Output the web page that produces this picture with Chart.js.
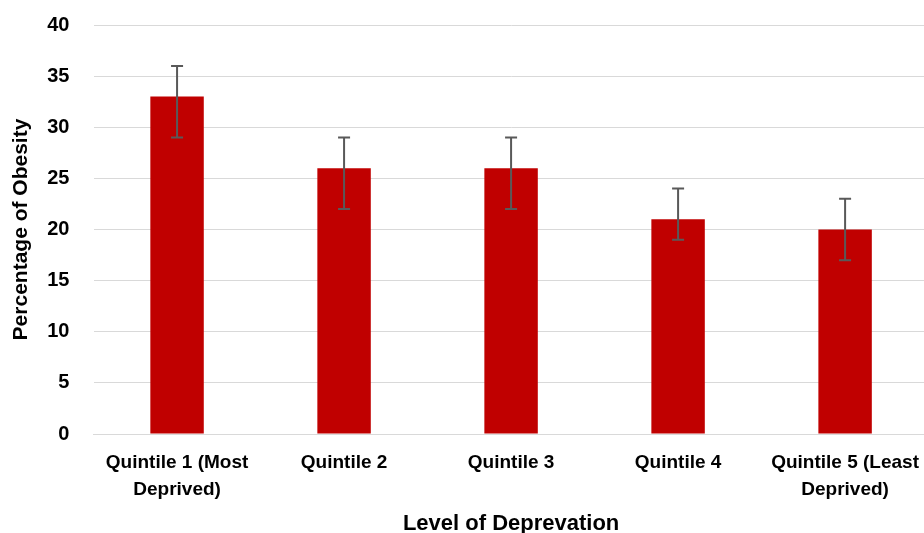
<!DOCTYPE html>
<html>
<head>
<meta charset="utf-8">
<script src="https://cdn.jsdelivr.net/npm/chart.js@4.4.1/dist/chart.umd.min.js"></script>
<style>
  html, body { margin: 0; padding: 0; background: #fff; overflow: hidden; }
  #wrap { width: 934px; height: 533px; }
</style>
</head>
<body>
<div id="wrap"><canvas id="chart"></canvas></div>
<script>
const categories = [
    ['Quintile 1 (Most', 'Deprived)'],
    'Quintile 2',
    'Quintile 3',
    'Quintile 4',
    ['Quintile 5 (Least', 'Deprived)']
];
const obesity = [33, 26, 26, 21, 20];
const errLow = [29, 22, 22, 19, 17];
const errHigh = [36, 29, 29, 24, 23];

const font = '"Liberation Sans", Arial, sans-serif';

// whiskers drawn through the y scale
const errorBars = {
    id: 'errorBars',
    afterDatasetsDraw(chart) {
        const ctx = chart.ctx;
        const y = chart.scales.y;
        const meta = chart.getDatasetMeta(0);
        ctx.save();
        ctx.strokeStyle = '#595959';
        ctx.lineWidth = 2;
        meta.data.forEach((bar, i) => {
            const x = bar.x;
            const top = y.getPixelForValue(errHigh[i]);
            const bot = y.getPixelForValue(errLow[i]);
            ctx.beginPath();
            ctx.moveTo(x, top); ctx.lineTo(x, bot);
            ctx.moveTo(x - 6, top); ctx.lineTo(x + 6, top);
            ctx.moveTo(x - 6, bot); ctx.lineTo(x + 6, bot);
            ctx.stroke();
        });
        ctx.restore();
    }
};

const ctx = document.getElementById('chart').getContext('2d');
const obesityChart = new Chart(ctx, {
    type: 'bar',
    data: {
        labels: categories,
        datasets: [{
            label: 'Percentage of Obesity',
            data: obesity,
            backgroundColor: '#C00000',
            barPercentage: 0.32,
            categoryPercentage: 1
        }]
    },
    options: {
        responsive: true,
        maintainAspectRatio: false,
        animation: false,
        layout: { padding: { top: 0, right: 0, left: 9, bottom: 0 } },
        plugins: {
            legend: { display: false },
            tooltip: { enabled: false }
        },
        scales: {
            x: {
                grid: { display: false, drawTicks: false },
                border: { color: '#d9d9d9', width: 1 },
                ticks: {
                    color: '#000',
                    padding: 15,
                    maxRotation: 0,
                    autoSkip: false,
                    font: { family: font, size: 19, weight: 'bold', lineHeight: 1.42 }
                },
                title: {
                    display: true,
                    text: 'Level of Deprevation',
                    color: '#000',
                    padding: { top: -5, bottom: -2 },
                    font: { family: font, size: 22, weight: 'bold', lineHeight: 1 }
                }
            },
            y: {
                min: 0,
                max: 40,
                ticks: {
                    stepSize: 5,
                    color: '#000',
                    padding: 13,
                    // trailing gap keeps labels clear of the gridlines
                    callback: v => v + '  ',
                    font: { family: font, size: 20, weight: 'bold' }
                },
                grid: { color: '#d9d9d9', lineWidth: 1, drawTicks: false },
                border: { display: false },
                title: {
                    display: true,
                    text: 'Percentage of Obesity',
                    color: '#000',
                    padding: { top: 0, bottom: 0 },
                    font: { family: font, size: 21, weight: 'bold' }
                }
            }
        }
    },
    plugins: [errorBars]
});
</script>
</body>
</html>
